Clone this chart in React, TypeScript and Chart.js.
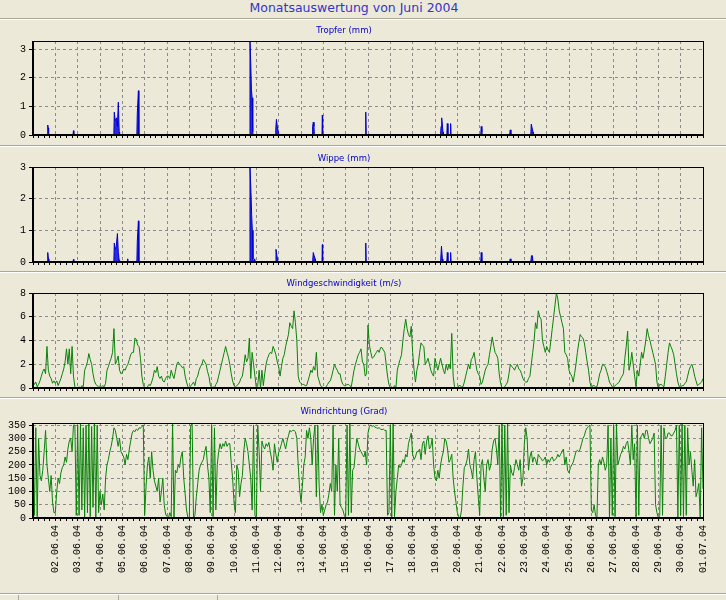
import React, { useEffect, useRef } from 'react';
import { Chart, registerables } from 'chart.js';

Chart.register(...registerables);

// ---------- data ----------
const DAY_LABELS = [
  '02.06.04', '03.06.04', '04.06.04', '05.06.04', '06.06.04', '07.06.04', '08.06.04', '09.06.04', '10.06.04', '11.06.04',
  '12.06.04', '13.06.04', '14.06.04', '15.06.04', '16.06.04', '17.06.04', '18.06.04', '19.06.04', '20.06.04', '21.06.04',
  '22.06.04', '23.06.04', '24.06.04', '25.06.04', '26.06.04', '27.06.04', '28.06.04', '29.06.04', '30.06.04', '01.07.04',
];

// x positions in days since 01.06.04 00:00
const TROPFER_DAYS = [
  0, 0.64, 0.66, 0.68, 0.70, 0.72,
  1.79, 1.81, 1.83,
  3.62, 3.64, 3.68, 3.74, 3.78, 3.82, 3.86, 3.88,
  4.65, 4.67, 4.72, 4.74,
  9.70, 9.716, 9.75, 9.78, 9.81, 9.84, 9.86,
  10.85, 10.87, 10.90, 10.94, 11.00, 11.02,
  12.50, 12.52, 12.55, 12.58, 12.60,
  12.94, 12.955, 12.97,
  14.88, 14.90, 14.92,
  18.25, 18.27, 18.30, 18.36, 18.38,
  18.53, 18.55, 18.58,
  18.68, 18.70, 18.72,
  20.05, 20.07, 20.10, 20.12,
  21.34, 21.37, 21.40,
  22.29, 22.31, 22.34, 22.39, 22.41,
  22.88, 22.90, 22.92,
  30,
];
const TROPFER_MM = [
  0, 0, 0.35, 0.25, 0.1, 0,
  0, 0.15, 0,
  0, 0.8, 0.5, 0.6, 0.3, 1.15, 0.1, 0,
  0, 0.75, 1.55, 0,
  0, 3.29, 2.5, 1.6, 1.3, 0.1, 0,
  0, 0.2, 0.55, 0.3, 0.05, 0,
  0, 0.3, 0.45, 0.3, 0,
  0, 0.7, 0,
  0, 0.8, 0,
  0, 0.3, 0.6, 0.1, 0,
  0, 0.4, 0,
  0, 0.4, 0,
  0, 0.3, 0.1, 0,
  0, 0.18, 0,
  0, 0.38, 0.38, 0.1, 0,
  0, 0.03, 0,
  0,
];

const WIPPE_DAYS = [
  0, 0.64, 0.65, 0.67, 0.69, 0.71,
  1.79, 1.81, 1.83,
  3.62, 3.64, 3.68, 3.73, 3.78, 3.82, 3.86, 3.88,
  4.22, 4.24, 4.26,
  4.65, 4.67, 4.72, 4.74,
  9.70, 9.716, 9.76, 9.79, 9.82, 9.85, 9.87, 9.93, 9.95,
  10.85, 10.88, 10.92, 10.96, 10.98,
  12.52, 12.55, 12.59, 12.63, 12.65,
  12.94, 12.955, 12.97,
  14.88, 14.90, 14.92,
  18.25, 18.29, 18.33, 18.35,
  18.53, 18.55, 18.58,
  18.68, 18.70, 18.72,
  20.05, 20.07, 20.10,
  21.34, 21.37, 21.40,
  22.29, 22.32, 22.36, 22.39,
  30,
];
const WIPPE_MM = [
  0, 0, 0.15, 0.3, 0.1, 0,
  0, 0.08, 0,
  0, 0.6, 0.4, 0.5, 0.9, 0.3, 0.05, 0,
  0, 0.1, 0,
  0, 0.65, 1.3, 0,
  0, 3.0, 2.2, 1.5, 1.0, 0.1, 0, 0.1, 0,
  0, 0.4, 0.2, 0.05, 0,
  0, 0.3, 0.2, 0.1, 0,
  0, 0.55, 0,
  0, 0.6, 0,
  0, 0.5, 0.1, 0,
  0, 0.3, 0,
  0, 0.3, 0,
  0, 0.3, 0,
  0, 0.1, 0,
  0, 0.2, 0.2, 0,
  0,
];

// 1.5-hourly samples (16 per day), 01.06.04 00:00 .. 01.07.04 00:00
const SAMPLE_STEP_DAYS = 1 / 16;
const WIND_SPEED = [
  0.6, 0.3, 0.5, 0.1, 0.3, 0.6, 1.0, 1.4, 1.6, 1.2, 3.5, 1.5, 1.0, 0.8, 0.4, 0.6,
  0.4, 0.6, 0.2, 0.5, 0.8, 1.2, 1.6, 2.2, 3.3, 2.0, 3.3, 1.2, 3.5, 1.0, 0.1, 0.0,
  0.0, 0.1, 0.0, 0.2, 0.1, 1.5, 1.8, 2.2, 2.9, 2.4, 2.0, 1.2, 0.6, 0.3, 0.2, 0.1,
  0.2, 0.1, 0.2, 0.1, 0.4, 1.5, 1.8, 2.2, 2.5, 3.0, 5.0, 2.0, 2.3, 2.7, 1.5, 1.2,
  1.3, 1.6, 1.5, 1.8, 2.0, 2.4, 2.8, 3.0, 3.0, 4.2, 4.1, 3.6, 3.5, 2.5, 1.0, 0.3,
  0.0, 0.0, 0.1, 0.3, 0.2, 0.5, 0.9, 1.5, 1.3, 1.8, 1.0, 0.8, 1.0, 0.6, 0.5, 0.8,
  1.0, 1.0, 0.8, 1.5, 1.1, 0.8, 1.4, 2.0, 2.2, 2.0, 1.9, 1.7, 1.8, 1.0, 0.5, 0.1,
  0.0, 0.2, 0.3, 0.5, 0.2, 0.8, 1.0, 1.5, 1.8, 2.0, 2.4, 2.2, 2.0, 1.4, 1.0, 0.3,
  0.0, 0.1, 0.0, 0.3, 0.5, 1.0, 1.5, 2.0, 2.5, 3.0, 3.5, 3.0, 2.6, 2.0, 1.2, 0.6,
  0.2, 0.1, 0.2, 0.3, 0.5, 0.8, 1.0, 1.8, 2.8, 2.2, 2.5, 4.2, 0.8, 3.0, 2.0, 1.0,
  0.0, 0.2, 1.5, 0.0, 1.5, 0.2, 1.2, 2.0, 2.5, 2.8, 3.0, 2.9, 3.5, 3.2, 2.8, 2.2,
  1.8, 1.0, 1.8, 2.5, 2.8, 3.5, 4.0, 4.5, 5.5, 5.2, 5.0, 6.5, 5.5, 4.0, 1.0, 0.5,
  0.4, 0.3, 0.3, 0.2, 0.2, 0.6, 1.0, 1.5, 1.3, 1.8, 1.5, 3.0, 1.0, 0.6, 0.2, 0.1,
  0.0, 0.0, 0.1, 0.3, 0.5, 0.6, 1.0, 1.5, 2.0, 1.7, 1.5, 1.2, 1.2, 0.6, 0.3, 0.2,
  0.2, 0.3, 0.3, 0.2, 0.1, 0.8, 1.5, 2.0, 2.4, 2.8, 3.0, 3.3, 2.2, 2.0, 1.0, 1.2,
  5.3, 3.6, 3.0, 2.5, 2.6, 2.8, 3.0, 3.2, 3.0, 3.4, 3.4, 3.2, 3.0, 2.0, 1.0, 0.3,
  0.0, 0.1, 0.0, 0.2, 0.0, 1.5, 2.0, 2.4, 2.8, 4.0, 5.0, 5.8, 5.0, 4.5, 4.3, 5.2,
  3.0, 1.5, 0.5, 1.5, 2.0, 3.0, 3.8, 3.6, 3.5, 2.0, 2.2, 2.5, 2.0, 1.5, 1.2, 1.0,
  2.5, 2.0, 1.5, 2.0, 2.5, 2.0, 1.5, 1.2, 2.0, 1.5, 2.0, 1.6, 4.6, 1.0, 0.1, 0.0,
  0.0, 0.2, 0.2, 0.1, 0.1, 0.5, 1.0, 1.5, 2.0, 1.6, 2.4, 2.6, 3.0, 2.2, 1.5, 1.2,
  1.0, 0.3, 0.5, 1.0, 1.5, 1.8, 2.0, 2.8, 3.5, 4.3, 3.6, 3.0, 2.8, 2.5, 1.2, 0.4,
  0.0, 0.0, 0.1, 0.3, 0.5, 1.2, 2.0, 1.8, 1.7, 1.5, 1.8, 2.0, 1.6, 1.5, 1.2, 0.8,
  0.6, 0.5, 0.5, 0.8, 1.0, 2.0, 3.0, 4.0, 5.5, 5.0, 6.5, 6.0, 5.8, 4.0, 3.5, 3.0,
  3.5, 3.2, 3.0, 4.0, 5.0, 6.0, 7.0, 8.0, 7.5, 6.5, 6.0, 5.5, 5.0, 3.0, 2.8, 2.5,
  1.5, 1.2, 1.0, 0.5, 1.2, 2.0, 3.0, 3.8, 4.5, 4.3, 4.2, 3.8, 3.0, 2.2, 1.5, 0.5,
  0.0, 0.2, 0.2, 0.1, 0.1, 0.6, 1.2, 1.5, 2.0, 1.9, 1.8, 1.4, 1.0, 0.5, 0.3, 0.1,
  0.1, 0.2, 0.3, 0.4, 0.5, 0.8, 1.0, 1.2, 2.5, 3.5, 4.8, 1.5, 2.0, 3.0, 2.0, 1.0,
  0.1, 1.5, 1.0, 2.0, 3.0, 2.5, 3.2, 4.0, 5.0, 4.4, 4.0, 3.5, 3.0, 2.5, 2.0, 0.5,
  0.0, 0.3, 0.3, 0.2, 0.1, 1.0, 2.0, 3.0, 3.8, 3.5, 3.2, 2.8, 2.0, 1.2, 0.5, 0.1,
  0.1, 0.2, 0.2, 0.4, 0.5, 1.0, 1.5, 1.8, 2.0, 1.6, 1.0, 0.6, 0.2, 0.3, 0.4, 0.5,
  0.8,
];

const WIND_DIR = [
  230, 10, 340, 5, 300, 160, 140, 180, 250, 330, 200, 150, 100, 160, 60, 20,
  20, 100, 150, 130, 170, 190, 200, 230, 210, 260, 290, 300, 250, 350, 350, 10,
  350, 10, 355, 30, 340, 0, 350, 20, 358, 5, 345, 40, 355, 0, 350, 20,
  100, 50, 90, 30, 150, 200, 220, 250, 270, 300, 340, 330, 300, 270, 300, 250,
  240, 230, 200, 240, 220, 260, 290, 320, 330, 325, 335, 330, 340, 338, 345, 350,
  10, 120, 200, 230, 150, 250, 180, 140, 120, 100, 150, 60, 100, 150, 50, 15,
  5, 0, 20, 5, 358, 0, 180, 170, 200, 190, 230, 250, 150, 90, 30, 0,
  0, 350, 355, 0, 10, 80, 130, 180, 200, 210, 220, 250, 270, 200, 150, 20,
  350, 5, 340, 30, 200, 250, 280, 260, 280, 270, 290, 270, 280, 280, 210, 150,
  60, 20, 200, 180, 80, 130, 160, 250, 300, 280, 250, 200, 150, 30, 350, 10,
  0, 350, 250, 100, 290, 270, 260, 280, 270, 285, 250, 220, 180, 280, 240, 210,
  250, 260, 280, 300, 280, 260, 290, 310, 330, 325, 330, 330, 325, 300, 200, 110,
  60, 120, 200, 230, 330, 300, 340, 300, 200, 300, 350, 80, 350, 120, 20, 50,
  10, 30, 50, 60, 90, 130, 100, 350, 10, 200, 100, 300, 50, 40, 30, 10,
  0, 350, 10, 355, 20, 180, 190, 250, 300, 280, 260, 250, 240, 230, 250, 200,
  320, 345, 350, 345, 348, 342, 340, 338, 340, 335, 333, 335, 330, 330, 10, 20,
  350, 0, 355, 5, 100, 150, 200, 190, 200, 220, 210, 240, 230, 280, 300, 320,
  240, 220, 230, 250, 250, 260, 220, 280, 290, 240, 290, 310, 260, 270, 300, 200,
  150, 140, 180, 150, 200, 230, 250, 300, 290, 260, 210, 220, 240, 150, 100, 60,
  20, 5, 0, 30, 120, 190, 200, 220, 260, 200, 180, 150, 220, 250, 150, 80,
  10, 200, 220, 150, 100, 200, 220, 180, 200, 260, 290, 300, 260, 200, 350, 0,
  355, 5, 350, 10, 358, 20, 200, 170, 160, 190, 220, 200, 180, 220, 120, 150,
  280, 340, 300, 180, 230, 250, 210, 230, 220, 200, 240, 230, 225, 215, 220, 230,
  200, 220, 210, 225, 230, 215, 220, 225, 240, 230, 240, 250, 260, 200, 230, 180,
  170, 190, 200, 210, 230, 250, 255, 250, 260, 280, 300, 310, 330, 340, 345, 350,
  30, 20, 50, 10, 0, 200, 220, 200, 230, 210, 180, 200, 350, 0, 300, 10,
  350, 5, 355, 200, 220, 240, 250, 270, 260, 280, 290, 250, 200, 350, 220, 280,
  0, 350, 10, 300, 310, 320, 300, 330, 330, 300, 280, 290, 300, 320, 50, 20,
  0, 10, 350, 10, 340, 300, 300, 320, 320, 310, 310, 320, 330, 350, 0, 350,
  10, 355, 5, 350, 10, 340, 200, 250, 180, 120, 220, 80, 100, 130, 0, 340,
  110,
];

const Y_TICKS_RAIN = [0, 1, 2, 3];
const Y_TICKS_SPEED = [0, 2, 4, 6, 8];
const Y_TICKS_DIR = [0, 50, 100, 150, 200, 250, 300, 350];

const TITLE = 'Monatsauswertung von Juni 2004';

// ---------- styling / layout ----------
const BG = '#ECE9D8';
const GRID = '#8a8a8a';
const PAD_TOP = 10;
const PLOT_LEFT = 33;
const PLOT_RIGHT = 703;
const W = 726;

const X_TICK_VALUES: number[] = [];
for (let i = 0; i <= 120; i++) X_TICK_VALUES.push(i / 4);

type PanelDef = {
  title: string;
  titleTop: number;
  plotTop: number;
  plotBottom: number;
  yMax: number;
  yTicks: number[];
  points: { x: number; y: number }[];
  color: string;
  fill: string | null;
  xLabels: boolean;
};

const toPts = (xs: number[], ys: number[]) => xs.map((x, i) => ({ x, y: ys[i] }));
const seriesPts = (ys: number[]) => ys.map((y, i) => ({ x: i * SAMPLE_STEP_DAYS, y }));

const PANELS: PanelDef[] = [
  { title: 'Tropfer (mm)', titleTop: 25, plotTop: 41, plotBottom: 139, yMax: 3.29, yTicks: Y_TICKS_RAIN,
    points: toPts(TROPFER_DAYS, TROPFER_MM), color: '#0000C8', fill: '#2a2ae6', xLabels: false },
  { title: 'Wippe (mm)', titleTop: 153, plotTop: 167, plotBottom: 266, yMax: 3, yTicks: Y_TICKS_RAIN,
    points: toPts(WIPPE_DAYS, WIPPE_MM), color: '#0000C8', fill: '#2a2ae6', xLabels: false },
  { title: 'Windgeschwindigkeit (m/s)', titleTop: 278, plotTop: 293, plotBottom: 392, yMax: 8, yTicks: Y_TICKS_SPEED,
    points: seriesPts(WIND_SPEED), color: '#0a820a', fill: null, xLabels: false },
  { title: 'Windrichtung (Grad)', titleTop: 406, plotTop: 423, plotBottom: 518, yMax: 358, yTicks: Y_TICKS_DIR,
    points: seriesPts(WIND_DIR), color: '#0a820a', fill: null, xLabels: true },
];

const framePlugin = {
  id: 'frame',
  afterDatasetsDraw(chart: any) {
    const { ctx, chartArea: a } = chart;
    ctx.save();
    ctx.fillStyle = '#000';
    const l = Math.round(a.left), r = Math.round(a.right), t = Math.round(a.top), b = Math.round(a.bottom);
    ctx.fillRect(l, t, r - l + 1, 1);
    ctx.fillRect(r, t, 1, b - t);
    ctx.fillRect(l - 1, t, 2, b - t);
    ctx.fillRect(l - 1, b - 1, r - l + 2, 2);
    ctx.restore();
  },
};

const TICK_FONT = { family: '"Liberation Mono", "DejaVu Sans Mono", monospace', size: 10 };

function PanelChart({ p }: { p: PanelDef }) {
  const ref = useRef<HTMLCanvasElement | null>(null);
  const xAxisH = p.xLabels ? 62 : 5;
  const height = p.plotBottom - p.plotTop + PAD_TOP + xAxisH;
  useEffect(() => {
    if (!ref.current) return;
    const chart = new Chart(ref.current, {
      type: 'line',
      data: {
        datasets: [
          {
            data: p.points,
            borderColor: p.color,
            backgroundColor: p.fill || p.color,
            borderWidth: 1,
            fill: p.fill ? 'origin' : false,
            pointRadius: 0,
            tension: 0,
          },
        ],
      },
      options: {
        animation: false,
        responsive: false,
        devicePixelRatio: 1,
        events: [],
        layout: { padding: { top: PAD_TOP, right: W - PLOT_RIGHT, left: 0, bottom: 0 } },
        plugins: { legend: { display: false }, tooltip: { enabled: false }, title: { display: false } },
        scales: {
          x: {
            type: 'linear',
            min: 0,
            max: 30,
            afterBuildTicks: (s: any) => {
              s.ticks = X_TICK_VALUES.map((v) => ({ value: v }));
            },
            afterFit: (s: any) => {
              s.height = xAxisH;
            },
            grid: {
              color: (c: any) => (c.tick && Number.isInteger(c.tick.value) ? GRID : 'rgba(0,0,0,0)'),
              lineWidth: 1,
              drawTicks: true,
              tickLength: 3,
              tickColor: '#000',
              tickWidth: 1,
              tickBorderDash: [],
            },
            border: { display: false, dash: [3, 3] },
            ticks: {
              display: p.xLabels,
              autoSkip: false,
              minRotation: 90,
              maxRotation: 90,
              padding: 4,
              color: '#000',
              font: TICK_FONT,
              callback: (v: any) => (Number.isInteger(v) && v > 0 ? DAY_LABELS[v - 1] : ''),
            },
          },
          y: {
            type: 'linear',
            min: 0,
            max: p.yMax,
            afterBuildTicks: (s: any) => {
              s.ticks = p.yTicks.map((v) => ({ value: v }));
            },
            afterFit: (s: any) => {
              s.width = PLOT_LEFT;
            },
            grid: {
              color: GRID,
              lineWidth: 1,
              drawTicks: true,
              tickLength: 4,
              tickColor: '#000',
              tickBorderDash: [],
            },
            border: { display: false, dash: [3, 3] },
            ticks: { padding: 3, color: '#000', font: TICK_FONT, autoSkip: false },
          },
        },
      },
      plugins: [framePlugin],
    } as any);
    return () => chart.destroy();
  }, []);
  return (
    <>
      <div
        style={{
          position: 'absolute',
          left: 0,
          top: p.titleTop,
          width: 688,
          textAlign: 'center',
          font: '8.5px "DejaVu Sans", sans-serif',
          lineHeight: '10px',
          color: '#0000CC',
          zIndex: 2,
          whiteSpace: 'nowrap',
        }}
      >
        {p.title}
      </div>
      <canvas
        ref={ref}
        width={W}
        height={height}
        style={{ position: 'absolute', left: 0, top: p.plotTop - PAD_TOP, width: W, height, zIndex: 1 }}
      />
    </>
  );
}

const Groove = ({ top }: { top: number }) => (
  <>
    <div style={{ position: 'absolute', left: 0, top, width: W, height: 1, background: '#ACA899' }} />
    <div style={{ position: 'absolute', left: 0, top: top + 1, width: W, height: 1, background: '#FFFFFF' }} />
  </>
);

export default function App() {
  return (
    <div style={{ position: 'fixed', left: 0, top: 0, width: W, height: 600, background: BG, overflow: 'hidden' }}>
      <div
        style={{
          position: 'absolute',
          left: 0,
          top: 1,
          width: 708,
          textAlign: 'center',
          font: '12.5px "DejaVu Sans", sans-serif',
          lineHeight: '14px',
          color: '#3434C8',
          whiteSpace: 'nowrap',
        }}
      >
        {TITLE}
      </div>
      <Groove top={18} />
      <Groove top={145} />
      <Groove top={271} />
      <Groove top={397} />
      {PANELS.map((p, i) => (
        <PanelChart key={i} p={p} />
      ))}
      <Groove top={593} />
      {[18, 118, 217].map((x) => (
        <div key={x} style={{ position: 'absolute', left: x, top: 595, width: 1, height: 5, background: '#ACA899' }} />
      ))}
    </div>
  );
}
